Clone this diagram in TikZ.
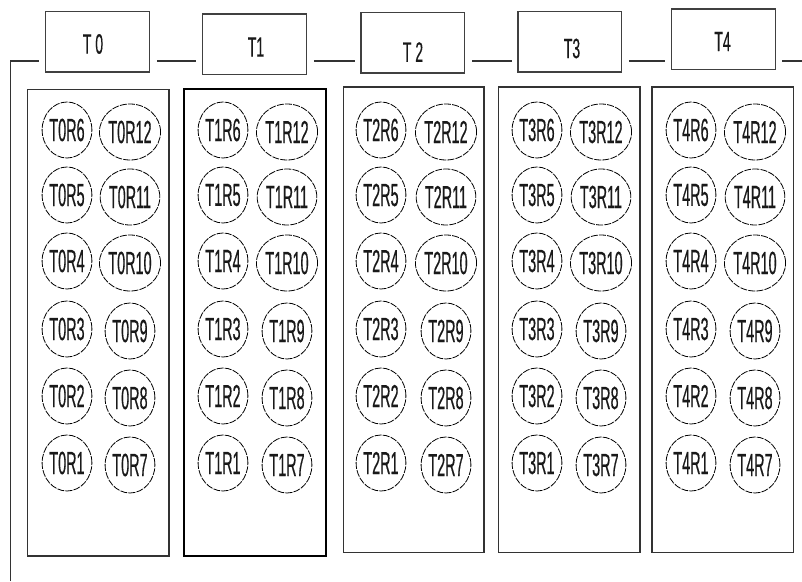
\documentclass[tikz,border=0pt]{standalone}
\usepackage{fontspec}
\setmainfont{Liberation Sans}
\newfontfamily\condfont[FakeStretch=0.45,FakeBold=0.4]{Liberation Sans}
\newfontfamily\hdrfont[FakeStretch=0.5,FakeBold=0.3]{Liberation Sans}
\usetikzlibrary{shapes.geometric}
\begin{document}
\begin{tikzpicture}[x=1pt,y=-1pt,
  hdrbox/.style={draw=black!75, line width=1.3pt, minimum width=103.5pt, minimum height=60.7pt, inner sep=0pt},
  hdrtext/.style={font=\hdrfont\fontsize{28}{28}\selectfont, text=black!90, inner sep=0pt},
  grpbox/.style={draw=black!80, line width=1.2pt, inner sep=0pt},
  grpthick/.style={draw=black, line width=2pt, inner sep=0pt},
  cell/.style={ellipse, draw=black, line width=0.8pt, dash pattern=on 7pt off 1.2pt,
    minimum width=48pt, minimum height=56pt, inner sep=0pt,
    font=\condfont\fontsize{32}{32}\selectfont, text=black!90},
  link/.style={draw=black!80, line width=1.1pt}]
\useasboundingbox (0,0) rectangle (802,581);
% header boxes
\node[hdrbox] (h0) at (97.5,41.7) {};
\node[hdrbox] (h1) at (254.5,44.2) {};
\node[hdrbox] (h2) at (412.7,42.7) {};
\node[hdrbox] (h3) at (569.8,41.7) {};
\node[hdrbox] (h4) at (723.5,39.3) {};
\node[hdrtext] (l0) at (93,44) {T 0};
\node[hdrtext] (l1) at (256,47) {T1};
\node[hdrtext] (l2) at (413,52) {T 2};
\node[hdrtext] (l3) at (572,48.5) {T3};
\node[hdrtext] (l4) at (722.5,41.5) {T4};
% connector line
\coordinate (ly) at (0,61);
\coordinate (corner) at (10.7,61);
\coordinate (bot) at (10.7,581);
\coordinate (rend) at (802,61);
\draw[link, shorten >=5.7pt] (bot) -- (corner) -- (h0.west |- ly);
\draw[link, shorten <=7pt, shorten >=5.7pt] (h0.east |- ly) -- (h1.west |- ly);
\draw[link, shorten <=7pt, shorten >=5.3pt] (h1.east |- ly) -- (h2.west |- ly);
\draw[link, shorten <=7pt, shorten >=5.3pt] (h2.east |- ly) -- (h3.west |- ly);
\draw[link, shorten <=6.6pt, shorten >=5.7pt] (h3.east |- ly) -- (h4.west |- ly);
\draw[link, shorten <=6.4pt] (h4.east |- ly) -- (rend);
% group boxes
\node[grpbox, minimum width=141.7pt, minimum height=466.7pt] (g0) at (98.15,322.65) {};
\node[grpthick, minimum width=142pt, minimum height=466.7pt] (g1) at (254.7,322.65) {};
\node[grpbox, minimum width=140.7pt, minimum height=465.7pt] (g2) at (413.65,319.85) {};
\node[grpbox, minimum width=141.3pt, minimum height=465.7pt] (g3) at (569.35,319.85) {};
\node[grpbox, minimum width=141.7pt, minimum height=465.7pt] (g4) at (722.85,319.85) {};
% cells
\foreach \g/\lx/\rx in {0/67/130, 1/223/287, 2/381/446, 3/537/601, 4/691/755} {
  \foreach \r/\yy in {6/130,5/195,4/261,3/329,2/396,1/463} {
    \pgfmathtruncatemacro\rr{\r+6}
    \node[cell] (T\g R\r) at (\lx,\yy) {T\g R\r};
    \node[cell] (T\g R\rr) at (\rx,\yy+2) {T\g R\rr};
  }
}
\end{tikzpicture}
\end{document}
